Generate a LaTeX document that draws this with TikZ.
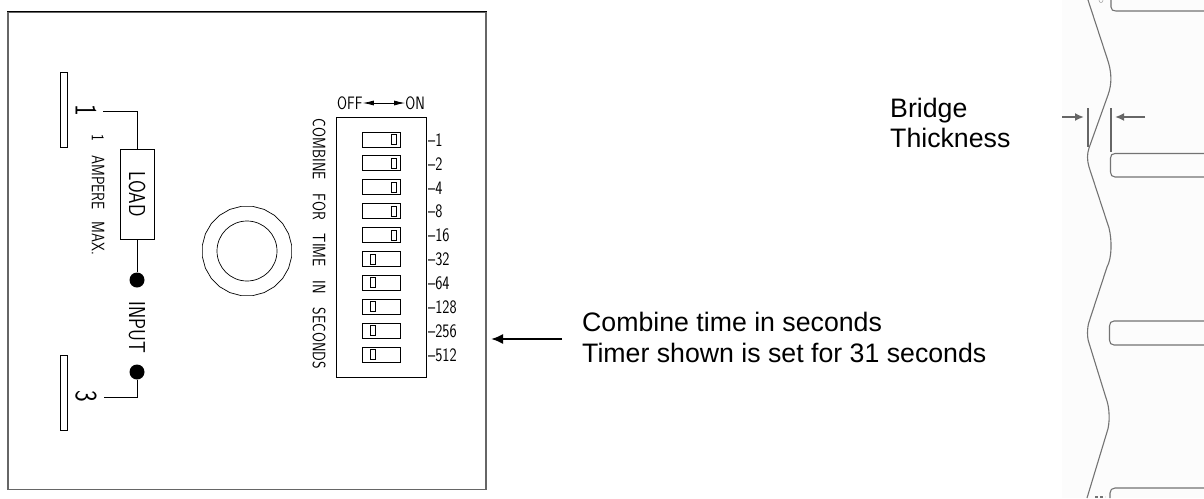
\documentclass[tikz,border=0pt]{standalone}
\usepackage{fontspec}
\usetikzlibrary{shapes.geometric,arrows.meta}
\setmainfont{Liberation Sans}
\newfontfamily\cadfont[FakeStretch=0.8]{Latin Modern Sans}
\tikzset{
  cad/.style={font=\cadfont\fontsize{18}{18}\selectfont, inner sep=0pt},
  cadup/.style={cad, rotate=-90},
  plate/.style={draw, line width=0.8pt, minimum width=7pt, minimum height=75pt, inner sep=0pt},
  dot/.style={circle, fill=black, minimum size=15pt, inner sep=0pt},
  switchbox/.style={draw, line width=0.9pt, minimum width=38pt, minimum height=15pt, inner sep=0pt},
  slider/.style={draw, line width=0.9pt, minimum width=5pt, minimum height=10pt, inner sep=0pt},
  profile/.style={draw=black!55, line width=1.1pt, line join=round},
  label/.style={font=\fontsize{26.7}{26.7}\selectfont, anchor=base west, inner sep=0pt},
  gauge/.style={draw=black!60, line width=1.9pt}
}
\begin{document}
\begin{tikzpicture}[x=1pt, y=-1pt]
  \useasboundingbox (0,0) rectangle (1204,498);
  \fill[black!1] (1062,0) rectangle (1204,498);

  % Le boitier
  \node[draw=black!60, line width=1.2pt, minimum width=478pt, minimum height=477pt, inner sep=0pt] (case) at (247,251) {};
  \draw[line width=1pt] (case.north west) -- (case.north east);

  % Les bornes
  \node[plate] (plate1) at (63.5,109.5) {};
  \node[plate] (plate3) at (63.5,393) {};
  \node[cadup, font=\cadfont\fontsize{31}{31}\selectfont] (pin1) at (86,110) {1};
  \node[cadup, font=\cadfont\fontsize{31}{31}\selectfont] (pin3) at (86,396) {3};

  % La charge et le circuit
  \node[draw, line width=0.9pt, minimum width=34pt, minimum height=90pt, inner sep=0pt] (load) at (137,194) {};
  \node[cadup, font=\cadfont\fontsize{23}{23}\selectfont] (loadtext) at (137,194) {LOAD};
  \node[cadup] (amp) at (98,195) {1\hspace{14pt}AMPERE\hspace{12pt}MAX.};
  \node[dot] (in1) at (137,280) {};
  \node[dot] (in3) at (137,372) {};
  \node[cadup, font=\cadfont\fontsize{23}{23}\selectfont] (input) at (137,327.5) {INPUT};
  \coordinate (w1) at (103,111);
  \coordinate (w3) at (104,397);
  \draw[line width=0.9pt] (w1) -| (load.north);
  \draw[line width=0.9pt] (load.south) -- (in1);
  \draw[line width=0.9pt] (in3) |- (w3);

  % Le bouton
  \node[draw, regular polygon, regular polygon sides=24, minimum size=90pt, inner sep=0pt, line width=0.7pt] (knob) at (247,251) {};
  \node[draw, circle, minimum size=60pt, inner sep=0pt, line width=0.7pt] (knobin) at (247,251) {};

  % Les interrupteurs
  \node[draw, line width=0.9pt, minimum width=90pt, minimum height=260pt, inner sep=0pt] (dip) at (381,247) {};
  \foreach \v [count=\i] in {1,2,4,8,16,32,64,128,256,512} {
    \node[switchbox] (sw\i) at (381,{139.5+23.9*(\i-1)}) {};
    \node[cad, anchor=west, font=\cadfont\fontsize{19}{19}\selectfont] (val\i) at (428,{140+23.9*(\i-1)}) {\textendash\v};
  }
  \foreach \i in {1,...,5} {
    \node[slider] (on\i) at (393.5,{139.5+23.9*(\i-1)}) {};
  }
  \foreach \i in {6,...,10} {
    \node[slider] (off\i) at (372.5,{139.5+23.9*(\i-1)}) {};
  }
  \node[cad, anchor=west] (off) at (337,103) {OFF};
  \node[cad, anchor=east] (on) at (425,103) {ON};
  \draw[{Latex[length=11pt,width=5pt]}-{Latex[length=11pt,width=5pt]}, line width=0.8pt] (off) -- (on);
  \node[cadup] (combine) at (319,244) {COMBINE\hspace{14pt}FOR\hspace{14pt}TIME\hspace{14pt}IN\hspace{14pt}SECONDS};

  % La legende
  \node[label] (time1) at (582,331) {Combine time in seconds};
  \node[label] (time2) at (582,362) {Timer shown is set for 31 seconds};
  \coordinate (tail) at (562,339);
  \coordinate (tip) at (491,339);
  \draw[-{Latex[length=12pt,width=10pt]}, line width=2pt] (tail) -- (tip);

  % Le profil
  \draw[profile] (1088,0) -- (1107,58) .. controls (1112,72) and (1112,84) .. (1108,95)
    -- (1089,148) .. controls (1087,154) and (1087,160) .. (1089,167)
    -- (1109,228) .. controls (1112,240) and (1112,258) .. (1107,267)
    -- (1089,322) .. controls (1087,328) and (1087,338) .. (1089,343)
    -- (1106,398) .. controls (1110,408) and (1110,424) .. (1107,432)
    -- (1087,498);
  \draw[profile] (1111,0) -- (1111,7) .. controls (1111,10) and (1113,11) .. (1116,11) -- (1204,11);
  \draw[profile] (1204,153.5) -- (1115,153.5) .. controls (1112,153.5) and (1110.5,155) .. (1110.5,158)
    -- (1110.5,172) .. controls (1110.5,175) and (1112,177) .. (1115,177) -- (1204,177);
  \draw[profile] (1204,321) -- (1114,321) .. controls (1111,321) and (1109.5,323) .. (1109.5,326)
    -- (1109.5,340) .. controls (1109.5,343) and (1111,345) .. (1114,345) -- (1204,345);
  \draw[profile] (1110,498) -- (1110,493) .. controls (1110,490) and (1112,488) .. (1115,488) -- (1204,488);
  \node[draw=black!45, circle, minimum size=4pt, inner sep=0pt] (hole) at (1101,0.5) {};
  \draw[profile, dashed, dash pattern=on 3pt off 2pt] (1095,497) -- (1105,497);

  % L'epaisseur du pont
  \node[label] (bridge) at (890,117) {Bridge};
  \node[label] (thick) at (890,147) {Thickness};
  \coordinate (lefttop) at (1088,108);
  \coordinate (leftbot) at (1088,147);
  \coordinate (righttop) at (1110.7,108);
  \coordinate (rightbot) at (1110.7,152);
  \draw[gauge] (lefttop) -- (leftbot);
  \draw[gauge] (righttop) -- (rightbot);
  \coordinate (leftfrom) at (1062,117);
  \coordinate (leftto) at (1084,117);
  \coordinate (rightfrom) at (1145,117);
  \coordinate (rightto) at (1115,117);
  \draw[gauge, -{Latex[length=9pt,width=8pt]}] (leftfrom) -- (leftto);
  \draw[gauge, -{Latex[length=9pt,width=8pt]}] (rightfrom) -- (rightto);
\end{tikzpicture}
\end{document}
